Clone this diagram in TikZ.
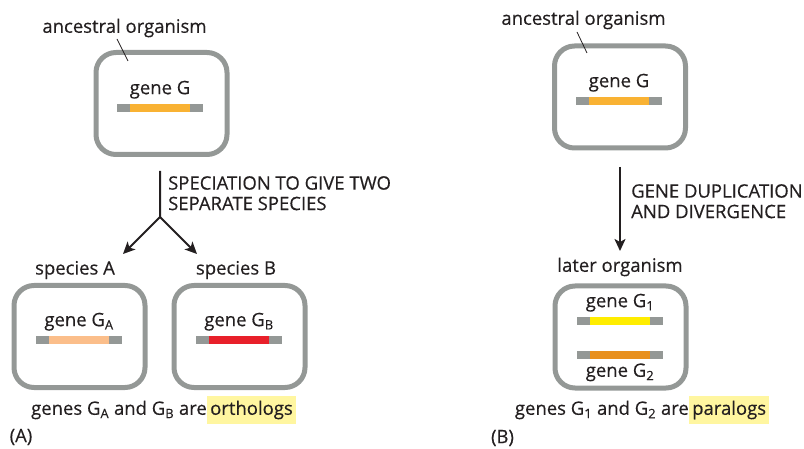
\documentclass[tikz,border=0pt]{standalone}
\usepackage{fontspec}
\setmainfont[FakeBold=0.4]{Open Sans}
\usetikzlibrary{positioning,arrows.meta}
\definecolor{cbox}{RGB}{148,152,150}
\definecolor{cgene}{RGB}{249,178,51}
\definecolor{cgeneA}{RGB}{251,190,138}
\definecolor{cgeneB}{RGB}{232,32,42}
\definecolor{cgeneI}{RGB}{255,237,0}
\definecolor{cgeneII}{RGB}{232,144,30}
\definecolor{chl}{RGB}{255,246,160}
\definecolor{ctext}{RGB}{35,31,32}

\begin{document}
\begin{tikzpicture}[x=1pt,y=-1pt,
  font=\fontsize{18.5}{20.5}\selectfont,text=ctext,
  org/.style={draw=cbox,line width=5pt,rounded corners=20pt,minimum width=131pt,minimum height=102pt,inner sep=0},
  bar/.style={fill=cbox,minimum width=86pt,minimum height=8pt,inner sep=0},
  core/.style={minimum width=60pt,minimum height=8pt,inner sep=0},
  t/.style={inner sep=0},
  hl/.style={fill=chl,inner xsep=3pt,inner ysep=5pt},
  a/.style={-{Stealth[length=12pt,width=11pt,inset=3pt]},line width=2pt,draw=ctext},
  lead/.style={line width=0.8pt,draw=ctext},
]
\useasboundingbox (0,0) rectangle (804,449);
% --- (A) speciation: orthologs ---
\node[org] (orgA0) at (161.5,103.5) {};
\node[t] (ancA) at (124.5,28) {ancestral organism};
\coordinate (ldA1) at (117,39); \coordinate (ldA2) at (128,61);
\draw[lead] (ldA1) -- (ldA2);
\node[bar] (gA0) at (160,108) {}; \node[core,fill=cgene] at (gA0) {};
\node[t,above=5pt of gA0] {gene G};
\coordinate (spc0) at (160,171); \coordinate (fork) at (160,217);
\coordinate (spcA) at (123,254); \coordinate (spcB) at (197,254);
\draw[a] (spc0) -- (fork) -- (spcA);
\draw[a] (fork) -- (spcB);
\node[t,anchor=north west,align=left] (spcT) at (168,176) {SPECIATION TO GIVE TWO\\SEPARATE SPECIES};
\node[t] (spA) at (75,270) {species A};
\node[t] (spB) at (236,270) {species B};
\node[org] (orgA) at (79.5,336.5) {};
\node[org] (orgB) at (239.5,336.5) {};
\node[bar] (gA) at (79,340) {}; \node[core,fill=cgeneA] at (gA) {};
\node[t,above=5pt of gA] {gene G\textsubscript{A}};
\node[bar] (gB) at (239,340) {}; \node[core,fill=cgeneB] at (gB) {};
\node[t,above=5pt of gB] {gene G\textsubscript{B}};
\node[t,anchor=east] (ortT) at (207,410) {genes G\textsubscript{A} and G\textsubscript{B} are\ };
\node[hl,right=0pt of ortT] (ortH) {orthologs\hspace{4pt}};
\node[t] (labA) at (21,437) {(A)};
% --- (B) duplication: paralogs ---
\node[org] (orgP0) at (620,97) {};
\node[t] (ancP) at (583.5,20) {ancestral organism};
\coordinate (ldP1) at (577,32); \coordinate (ldP2) at (587,53);
\draw[lead] (ldP1) -- (ldP2);
\node[bar] (gP0) at (619,101) {}; \node[core,fill=cgene] at (gP0) {};
\node[t,above=5pt of gP0] {gene G};
\coordinate (dup0) at (620,167); \coordinate (dup1) at (620,251);
\draw[a] (dup0) -- (dup1);
\node[t,anchor=north west,align=left] (dupT) at (631,184) {GENE DUPLICATION\\AND DIVERGENCE};
\node[t] (later) at (620,267) {later organism};
\node[org] (orgP) at (620.5,337) {};
\node[bar] (g1) at (620,321) {}; \node[core,fill=cgeneI] at (g1) {};
\node[t,above=5pt of g1] {gene G\textsubscript{1}};
\node[bar] (g2) at (620,355) {}; \node[core,fill=cgeneII] at (g2) {};
\node[t,below=4pt of g2] {gene G\textsubscript{2}};
\node[t,anchor=east] (parT) at (689,410) {genes G\textsubscript{1} and G\textsubscript{2} are\ };
\node[hl,right=0pt of parT] (parH) {paralogs\hspace{4pt}};
\node[t] (labB) at (502.5,438) {(B)};
\end{tikzpicture}
\end{document}
